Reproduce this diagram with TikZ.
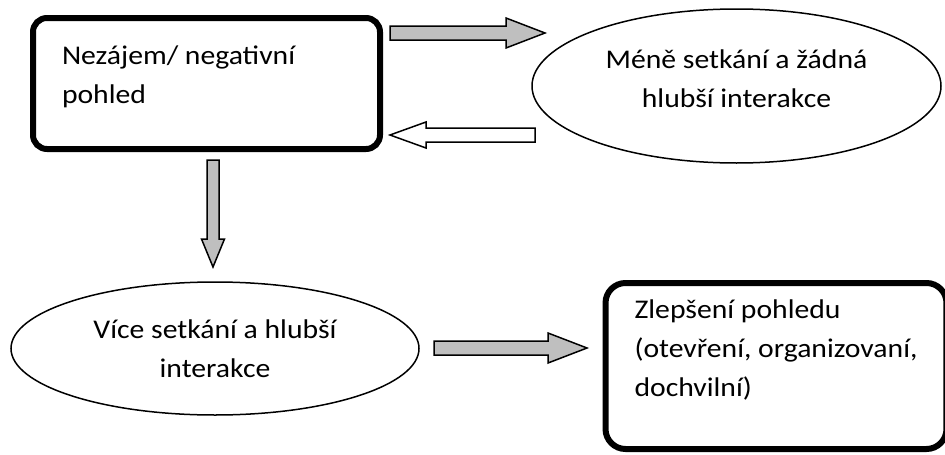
\documentclass[tikz,border=0pt]{standalone}
\usepackage{fontspec}
\setmainfont{Carlito}[FakeStretch=1.1]
\usetikzlibrary{shapes.geometric,calc}

% block arrow: [fill] tail, tip, half shaft, half head, head length
\newcommand{\blockarrow}[6][gray!50]{%
  \draw[fatarrow, fill=#1] ($(#2)!#4!90:(#3)$) -- ($(#3)!#6!(#2)!#4!-90:(#2)$)
    -- ($(#3)!#6!(#2)!#5!-90:(#2)$) -- (#3) -- ($(#3)!#6!(#2)!#5!90:(#2)$)
    -- ($(#3)!#6!(#2)!#4!90:(#2)$) -- ($(#2)!#4!-90:(#3)$) -- cycle;
}

\begin{document}
\begin{tikzpicture}[
    x=1pt, y=-1pt,
    font=\fontsize{27pt}{39pt}\selectfont,
    bigbox/.style={draw, line width=6pt, rounded corners=14pt, align=flush left, inner xsep=29pt, inner ysep=0pt},
    oval/.style={draw, ellipse, line width=1.5pt, align=center, inner sep=0pt, text depth=6pt},
    fatarrow/.style={draw, line width=1.5pt, line join=miter}
  ]
    \useasboundingbox (0,0) rectangle (945,455);

    % Boxes
    \node[bigbox, minimum width=347pt, minimum height=131pt, text width=289pt, text height=20pt, text depth=59pt] (neg) at (206.5,83.5) {Nezájem/ negativní\\pohled};
    \node[bigbox, rounded corners=20pt, minimum width=330pt, minimum height=166pt, text height=66pt, text depth=6pt] (better) at (776,366) {Zlepšení pohledu\\(otevření, organizovaní,\\dochvilní)};

    % Ellipses
    \node[oval, minimum width=409pt, minimum height=154pt, text height=48pt] (less) at (736.5,86) {Méně setkání a žádná\\hlubší interakce};
    \node[oval, minimum width=408pt, minimum height=133pt, text height=63pt] (more) at (215,348.5) {Více setkání a hlubší\\interakce};

    % Arrow ends
    \coordinate (a1s) at (390,33);  \coordinate (a1e) at (545,33);
    \coordinate (a2s) at (535,135); \coordinate (a2e) at (390,135);
    \coordinate (a3s) at (213,160); \coordinate (a3e) at (213,267);
    \coordinate (a4s) at (434,348); \coordinate (a4e) at (587,348);

    % Arrows
    \blockarrow{a1s}{a1e}{7pt}{15pt}{39pt}
    \blockarrow[white]{a2s}{a2e}{7pt}{13pt}{36pt}
    \blockarrow{a3s}{a3e}{6pt}{11.5pt}{28pt}
    \blockarrow{a4s}{a4e}{7pt}{15pt}{39pt}
  \end{tikzpicture}
\end{document}
